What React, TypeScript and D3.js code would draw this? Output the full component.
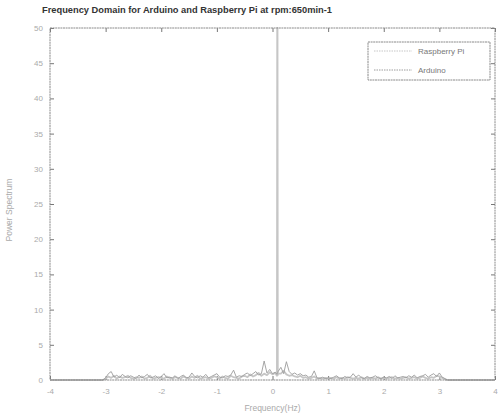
import React, { useEffect, useRef } from 'react';
import * as d3 from 'd3';

// frequency bins (Hz), shared by both series
const freqs = [
  -4.0, -3.05,
  -3.0, -2.95, -2.9, -2.85, -2.8, -2.75, -2.7, -2.65, -2.6, -2.55,
  -2.5, -2.45, -2.4, -2.35, -2.3, -2.25, -2.2, -2.15, -2.1, -2.05,
  -2.0, -1.95, -1.9, -1.85, -1.8, -1.75, -1.7, -1.65, -1.6, -1.55,
  -1.5, -1.45, -1.4, -1.35, -1.3, -1.25, -1.2, -1.15, -1.1, -1.05,
  -1.0, -0.95, -0.9, -0.85, -0.8, -0.75, -0.7, -0.65, -0.6, -0.55,
  -0.5, -0.45, -0.4, -0.35, -0.3, -0.25, -0.2, -0.15, -0.1, -0.05,
  0.0, 0.05, 0.08, 0.085, 0.09, 0.095, 0.1, 0.15, 0.2, 0.25, 0.3, 0.35, 0.4, 0.45,
  0.5, 0.55, 0.6, 0.65, 0.7, 0.75, 0.8, 0.85, 0.9, 0.95,
  1.0, 1.05, 1.1, 1.15, 1.2, 1.25, 1.3, 1.35, 1.4, 1.45,
  1.5, 1.55, 1.6, 1.65, 1.7, 1.75, 1.8, 1.85, 1.9, 1.95,
  2.0, 2.05, 2.1, 2.15, 2.2, 2.25, 2.3, 2.35, 2.4, 2.45,
  2.5, 2.55, 2.6, 2.65, 2.7, 2.75, 2.8, 2.85, 2.9, 2.95,
  3.0, 3.05, 3.1,
  3.15, 4.0,
];

const raspberryPi = [
  0, 0,
  0.2, 0.5, 0.3, 0.6, 0.2, 0.5, 0.3, 0.4, 0.6, 0.3,
  0.2, 0.4, 0.3, 0.5, 0.2, 0.3, 0.6, 0.2, 0.3, 0.4,
  0.3, 0.2, 0.5, 0.3, 0.2, 0.4, 0.3, 0.2, 0.5, 0.3,
  0.2, 0.5, 0.3, 0.6, 0.2, 0.3, 0.4, 0.2, 0.3, 0.5,
  0.4, 0.2, 0.5, 0.3, 0.2, 0.6, 0.4, 0.3, 0.2, 0.5,
  0.6, 0.4, 0.8, 0.5, 0.7, 1.0, 0.6, 0.9, 0.7, 1.1,
  0.8, 1.0, 0.6, 50, 50, 0.7, 0.9, 0.9, 1.3, 0.8, 0.6, 0.7, 0.5, 0.4,
  0.6, 0.3, 0.4, 0.2, 0.3, 0.5, 0.2, 0.3, 0.2, 0.3,
  0.2, 0.3, 0.2, 0.4, 0.2, 0.3, 0.2, 0.4, 0.3, 0.2,
  0.3, 0.2, 0.4, 0.2, 0.3, 0.2, 0.3, 0.2, 0.4, 0.2,
  0.3, 0.2, 0.3, 0.4, 0.2, 0.3, 0.2, 0.3, 0.4, 0.2,
  0.3, 0.4, 0.2, 0.3, 0.5, 0.3, 0.2, 0.4, 0.3, 0.6,
  0.5, 0.3, 0.1,
  0, 0,
];

const arduino = [
  0, 0,
  0.3, 0.9, 1.2, 0.4, 0.7, 0.3, 0.8, 0.5, 0.3, 0.6,
  0.4, 0.2, 0.7, 0.3, 0.5, 0.8, 0.3, 0.4, 0.6, 0.2,
  0.5, 0.9, 0.3, 0.4, 0.3, 0.6, 0.2, 0.5, 0.7, 0.3,
  0.4, 1.0, 0.5, 0.3, 0.6, 0.4, 0.8, 0.3, 0.5, 0.7,
  0.9, 0.4, 0.3, 0.6, 0.5, 0.7, 1.4, 0.4, 0.6, 0.5,
  0.8, 1.0, 0.6, 0.9, 1.2, 0.7, 0.9, 2.7, 1.0, 1.5,
  0.9, 1.1, 0.8, 0.9, 1.0, 1.1, 1.2, 1.8, 0.9, 2.6, 1.2, 0.8, 1.0, 0.7,
  0.9, 0.6, 0.7, 0.4, 0.5, 1.3, 0.3, 0.2, 0.4, 0.2,
  0.3, 0.2, 0.4, 0.6, 0.3, 0.2, 0.5, 0.3, 0.4, 0.9,
  0.4, 0.7, 0.3, 0.2, 0.5, 0.3, 0.4, 0.6, 0.3, 0.2,
  0.4, 0.3, 0.5, 0.2, 0.6, 0.3, 0.4, 0.5, 0.3, 0.6,
  0.4, 0.7, 0.3, 0.5, 0.6, 0.8, 0.4, 0.7, 0.9, 0.5,
  1.0, 0.4, 0.2,
  0, 0,
];

const xTicks = [-4, -3, -2, -1, 0, 1, 2, 3, 4];
const yTicks = [0, 5, 10, 15, 20, 25, 30, 35, 40, 45, 50];

const seriesNames = ['Raspberry Pi', 'Arduino'];
const seriesColors = ['#c6c6c6', '#9c9c9c'];

const W = 501;
const H = 420;
const margin = { top: 28, right: 6, bottom: 40, left: 50 };

const App = () => {
  const svgRef = useRef(null);

  useEffect(() => {
    const svg = d3.select(svgRef.current);
    svg.selectAll('*').remove();

    const x = d3.scaleLinear().domain([-4, 4]).range([margin.left, W - margin.right]);
    const y = d3.scaleLinear().domain([0, 50]).range([H - margin.bottom, margin.top]);

    const tickColor = '#777';
    const labelColor = '#aaa';
    const font = 'Liberation Sans, Arial, sans-serif';

    const styleAxis = (g) => {
      g.select('.domain').remove();
      g.selectAll('.tick line').attr('stroke', tickColor);
      g.selectAll('.tick text')
        .attr('fill', labelColor)
        .attr('font-family', font)
        .attr('font-size', 8);
    };

    // plain hyphen minus, like the original
    const fmt = (d) => String(d);

    // axes with inward ticks on all four sides
    svg.append('g')
      .attr('transform', `translate(0,${y(0)})`)
      .call(d3.axisBottom(x).tickValues(xTicks).tickSize(-4).tickPadding(8).tickFormat(fmt))
      .call(styleAxis);
    svg.append('g')
      .attr('transform', `translate(0,${y(50)})`)
      .call(d3.axisTop(x).tickValues(xTicks).tickSize(-4).tickFormat(() => ''))
      .call(styleAxis);
    svg.append('g')
      .attr('transform', `translate(${x(-4)},0)`)
      .call(d3.axisLeft(y).tickValues(yTicks).tickSize(-4).tickPadding(7).tickFormat(fmt))
      .call(styleAxis);
    svg.append('g')
      .attr('transform', `translate(${x(4)},0)`)
      .call(d3.axisRight(y).tickValues(yTicks).tickSize(-4).tickFormat(() => ''))
      .call(styleAxis);

    // spectra
    const line = d3.line()
      .x((d) => x(d[0]))
      .y((d) => y(d[1]));

    [raspberryPi, arduino].forEach((vals, i) => {
      svg.append('path')
        .datum(freqs.map((f, j) => [f, vals[j]]))
        .attr('fill', 'none')
        .attr('stroke', seriesColors[i])
        .attr('stroke-width', i === 0 ? 1.8 : 0.9)
        .attr('stroke-linejoin', 'round')
        .attr('d', line);
    });

    // frame
    svg.append('rect')
      .attr('x', x(-4))
      .attr('y', y(50))
      .attr('width', x(4) - x(-4))
      .attr('height', y(0) - y(50))
      .attr('fill', 'none')
      .attr('stroke', '#8a8a8a')
      .attr('stroke-width', 1)
      .attr('stroke-dasharray', '2,0.6');

    // legend
    const lg = svg.append('g').attr('transform', 'translate(368,42)');
    lg.append('rect')
      .attr('width', 122)
      .attr('height', 38)
      .attr('fill', '#fff')
      .attr('stroke', '#8a8a8a')
      .attr('stroke-dasharray', '2,0.6');
    seriesNames.forEach((name, i) => {
      const ly = 9 + i * 19;
      lg.append('line')
        .attr('x1', 6).attr('x2', 44)
        .attr('y1', ly).attr('y2', ly)
        .attr('stroke', seriesColors[i])
        .attr('stroke-dasharray', '1.5,1');
      lg.append('text')
        .attr('x', 50)
        .attr('y', ly + 3)
        .attr('font-family', font)
        .attr('font-size', 8)
        .attr('fill', '#777')
        .text(name);
    });

    // title and labels
    svg.append('text')
      .attr('x', 42)
      .attr('y', 13)
      .attr('font-family', font)
      .attr('font-weight', 'bold')
      .attr('font-size', 9.3)
      .attr('fill', '#333')
      .text('Frequency Domain for Arduino and Raspberry Pi at rpm:650min-1');

    svg.append('text')
      .attr('x', x(0))
      .attr('y', 411)
      .attr('text-anchor', 'middle')
      .attr('font-family', font)
      .attr('font-size', 8.5)
      .attr('fill', labelColor)
      .text('Frequency(Hz)');

    svg.append('text')
      .attr('transform', `translate(12,${(y(0) + y(50)) / 2 + 6}) rotate(-90)`)
      .attr('text-anchor', 'middle')
      .attr('font-family', font)
      .attr('font-size', 8.5)
      .attr('fill', labelColor)
      .text('Power Spectrum');
  }, []);

  return (
    <svg
      ref={svgRef}
      width={W}
      height={H}
      style={{ position: 'absolute', left: 0, top: 0, background: '#fff' }}
    />
  );
};

export default App;
